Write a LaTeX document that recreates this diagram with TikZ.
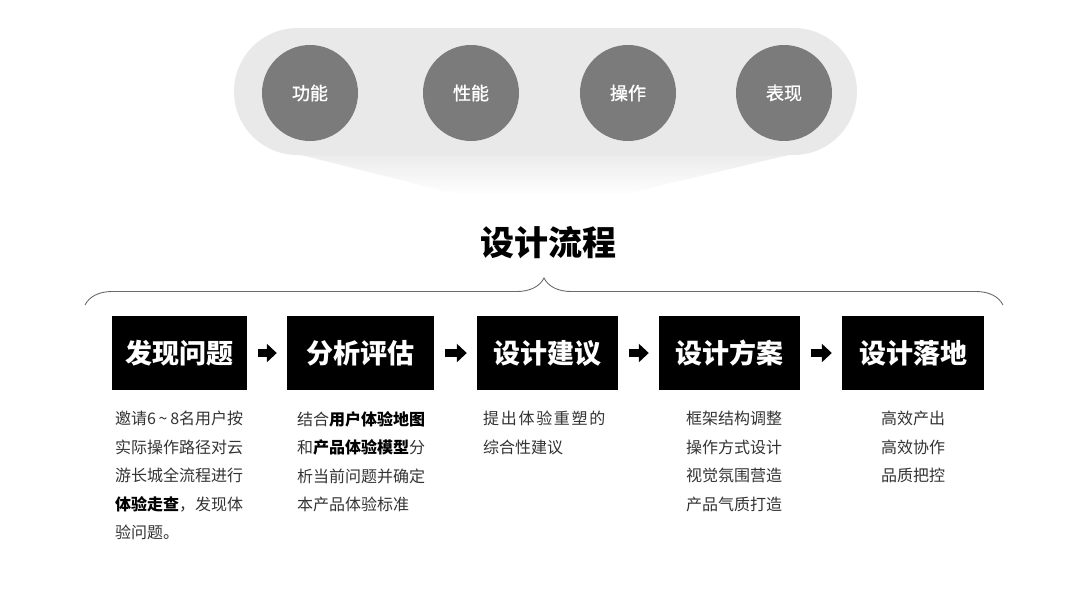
\documentclass[tikz,border=0pt]{standalone}
\usepackage{fontspec}
\newfontfamily\cjk{Noto Sans CJK SC}
\newfontfamily\cjkmed[FakeBold=1.2]{Noto Sans CJK SC}
\usetikzlibrary{arrows.meta,decorations.pathreplacing}
\definecolor{pillgray}{HTML}{E9E9E9}
\definecolor{circgray}{HTML}{7B7B7B}
\definecolor{desc}{HTML}{333333}
\definecolor{bracegray}{HTML}{6A6A6A}
\newcommand{\ls}[1]{#1\kern1.7pt}
\begin{document}
\begin{tikzpicture}[x=1pt,y=-1pt,font=\cjk,
  circ/.style={circle,fill=circgray,minimum size=96pt,inner sep=0pt,text=white,font=\cjkmed\fontsize{18}{18}\selectfont},
  stagebox/.style={rectangle,fill=black,minimum height=74pt,inner sep=0pt,text=white,font=\cjk\bfseries\fontsize{27}{27}\selectfont},
  flowarrow/.style={line width=8.5pt,-{Triangle[length=10pt,width=18pt]},shorten <=11pt,shorten >=10pt},
  desctext/.style={anchor=north west,align=left,inner sep=0pt,text=desc,font=\cjk\fontsize{16}{28.5}\selectfont}]
\useasboundingbox (0,0) rectangle (1080,603);
% top pill with fading trapezoid
\shade[top color=pillgray,bottom color=white] (273,148) -- (818,148) -- (617,196) -- (464,196) -- cycle;
\fill[pillgray,rounded corners=63.5pt] (234,28) rectangle (857,155);
\node[circ] (c1) at (310,93) {功能};
\node[circ] (c2) at (471,93) {性能};
\node[circ] (c3) at (628,93) {操作};
\node[circ] (c4) at (784,93) {表现};
% title
\node[font=\cjk\bfseries\fontsize{34}{34}\selectfont,text=black] (title) at (548,243) {设计流程};
% brace
\draw[bracegray,line width=0.9pt,decorate,decoration={brace,amplitude=27pt}] (85,305) -- (1003,305);
% stage boxes
\node[stagebox,minimum width=135pt] (b1) at (179.5,353) {发现问题};
\node[stagebox,minimum width=147pt] (b2) at (360.5,353) {分析评估};
\node[stagebox,minimum width=141pt] (b3) at (547.5,353) {设计建议};
\node[stagebox,minimum width=141pt] (b4) at (729.5,353) {设计方案};
\node[stagebox,minimum width=142pt] (b5) at (913,353) {设计落地};
\draw[flowarrow] (b1) -- (b2);
\draw[flowarrow] (b2) -- (b3);
\draw[flowarrow] (b3) -- (b4);
\draw[flowarrow] (b4) -- (b5);
% descriptions
\node[desctext] (d1) at (115,411) {邀请6\,\textasciitilde\,8名用户按\\实际操作路径对云\\游长城全流程进行\\{\bfseries\color{black}体验走查}，发现体\\验问题。};
\node[desctext] (d2) at (297,411) {结合{\bfseries\color{black}用户体验地图}\\和{\bfseries\color{black}产品体验模型}分\\析当前问题并确定\\本产品体验标准};
\node[desctext] (d3) at (483,411) {\ls{提}\ls{出}\ls{体}\ls{验}\ls{重}\ls{塑}的\\综合性建议};
\node[desctext] (d4) at (686,411) {框架结构调整\\操作方式设计\\视觉氛围营造\\产品气质打造};
\node[desctext] (d5) at (881,411) {高效产出\\高效协作\\品质把控};
\end{tikzpicture}
\end{document}
